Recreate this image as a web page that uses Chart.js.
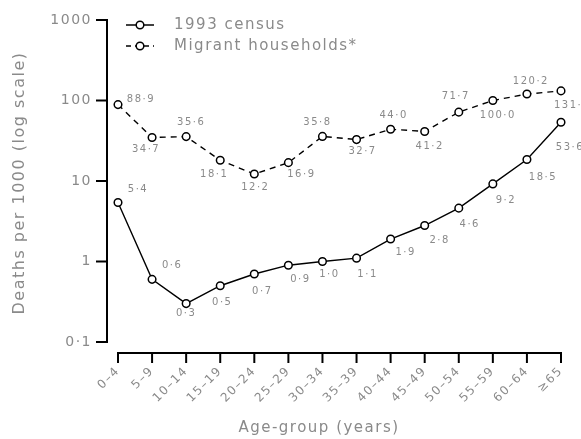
<!DOCTYPE html>
<html><head><meta charset="utf-8">
<script src="https://cdn.jsdelivr.net/npm/chart.js@4/dist/chart.umd.min.js"></script>
<style>html,body{margin:0;padding:0;background:#fff}#wrap{width:581px;height:439px}</style>
</head><body><div id="wrap"><canvas id="c" width="581" height="439"></canvas></div>
<script>
const ageGroups = ['0–4','5–9','10–14','15–19','20–24','25–29','30–34','35–39','40–44','45–49','50–54','55–59','60–64','≥65'];
const census1993 = [5.4,0.6,0.3,0.5,0.7,0.9,1.0,1.1,1.9,2.8,4.6,9.2,18.5,53.6];
const migrantHouseholds = [88.9,34.7,35.6,18.1,12.2,16.9,35.8,32.7,44.0,41.2,71.7,100.0,120.2,131.6];
const yTicks = [0.1,1,10,100,1000];
const yTickLabels = ['0·1','1','10','100','1000'];
const seriesNames = ['1993 census','Migrant households*'];

const fmt = v => v.toFixed(1).replace('.', '·');
const GREY = '#8a8a8a';
const FONT = '"DejaVu Sans", sans-serif';

// label placement offsets (style, not data)
const labelOff = [
  [[20,-13],[20,-14],[0,10],[2,17],[8,17],[12,14],[7,13],[11,16],[15,13],[15,15],[11,16],[13,16],[16,18],[9,25]],
  [[23,-5],[-6,12],[5,-14],[-6,14],[1,13],[13,12],[-5,-14],[6,12],[3,-14],[5,15],[-3,-16],[5,15],[4,-13],[11,15]]
];

const decor = {
  id:'decor',
  beforeUpdate(chart){ chart.ctx.letterSpacing='1.5px'; },
  beforeDraw(chart){ chart.ctx.letterSpacing='1.5px'; },
  afterDraw(chart){
    const ctx = chart.ctx, a = chart.chartArea, ys = chart.scales.y, xs = chart.scales.x;
    ctx.save();
    ctx.letterSpacing='1.5px';
    const ax = a.left - 11;
    ctx.strokeStyle='#000'; ctx.lineWidth=2;
    ctx.beginPath(); ctx.moveTo(ax, ys.getPixelForValue(1000)); ctx.lineTo(ax, ys.getPixelForValue(0.1)); ctx.stroke();
    yTicks.forEach(t=>{ const y=ys.getPixelForValue(t); ctx.beginPath(); ctx.moveTo(ax-11,y); ctx.lineTo(ax+1,y); ctx.stroke(); });
    const ay = a.bottom + 11;
    ctx.beginPath(); ctx.moveTo(xs.getPixelForValue(0)-1, ay); ctx.lineTo(xs.getPixelForValue(ageGroups.length-1)+1, ay); ctx.stroke();
    ageGroups.forEach((g,i)=>{ const x=xs.getPixelForValue(i); ctx.beginPath(); ctx.moveTo(x,ay-1); ctx.lineTo(x,ay+10); ctx.stroke(); });
    ctx.fillStyle=GREY; ctx.font='10px '+FONT; ctx.textAlign='center'; ctx.textBaseline='middle';
    [census1993, migrantHouseholds].forEach((arr,di)=>{
      const meta = chart.getDatasetMeta(di);
      arr.forEach((v,i)=>{ const p=meta.data[i]; const o=labelOff[di][i]; ctx.fillText(fmt(v), p.x+o[0], p.y+o[1]); });
    });
    ctx.font='15px '+FONT; ctx.fillStyle=GREY;
    ctx.fillText('Age-group (years)', 319, 428);
    ctx.save(); ctx.translate(20, 183); ctx.rotate(-Math.PI/2); ctx.font='16px '+FONT; ctx.fillText('Deaths per 1000 (log scale)', 0, 0); ctx.restore();
    const leg = [{y:25, dash:[]},{y:46, dash:[5,4]}];
    leg.forEach((l,i)=>{
      ctx.strokeStyle='#000'; ctx.lineWidth=1.5; ctx.setLineDash(l.dash);
      ctx.beginPath(); ctx.moveTo(126,l.y); ctx.lineTo(154,l.y); ctx.stroke();
      ctx.setLineDash([]);
      ctx.beginPath(); ctx.arc(140,l.y,3.8,0,Math.PI*2); ctx.fillStyle='#fff'; ctx.fill(); ctx.stroke();
      ctx.fillStyle=GREY; ctx.textAlign='left'; ctx.font='15px '+FONT;
      ctx.fillText(seriesNames[i], 174, l.y);
    });
    ctx.restore();
  }
};

new Chart(document.getElementById('c'), {
  type:'line',
  data:{
    labels: ageGroups,
    datasets:[
      {label:seriesNames[0], data:census1993, borderColor:'#000', borderWidth:1.4, pointRadius:3.8, pointBackgroundColor:'#fff', pointBorderColor:'#000', pointBorderWidth:1.5, tension:0},
      {label:seriesNames[1], data:migrantHouseholds, borderColor:'#000', borderWidth:1.4, borderDash:[6,5], pointRadius:3.8, pointBackgroundColor:'#fff', pointBorderColor:'#000', pointBorderWidth:1.5, tension:0}
    ]
  },
  options:{
    responsive:false, animation:false, devicePixelRatio:1,
    layout:{padding:{top:20, right:20, left:0, bottom:0}},
    plugins:{legend:{display:false}, tooltip:{enabled:false}},
    scales:{
      x:{
        grid:{display:false, drawTicks:false}, border:{display:false},
        ticks:{color:GREY, font:{family:FONT, size:12}, maxRotation:45, minRotation:45, padding:22, autoSkip:false},
        afterFit(s){ s.height = 97; s.paddingLeft=0; s.paddingRight=0; }
      },
      y:{
        type:'logarithmic', min:0.1, max:1000,
        grid:{display:false, drawTicks:false}, border:{display:false},
        afterBuildTicks(s){ s.ticks = yTicks.map(v=>({value:v})); },
        ticks:{color:GREY, font:{family:FONT, size:14}, padding:26, callback:(v)=>yTickLabels[yTicks.indexOf(v)] ?? ''},
        afterFit(s){ s.width = 118; s.paddingTop=0; s.paddingBottom=0; }
      }
    }
  },
  plugins:[decor]
});
</script></body></html>
